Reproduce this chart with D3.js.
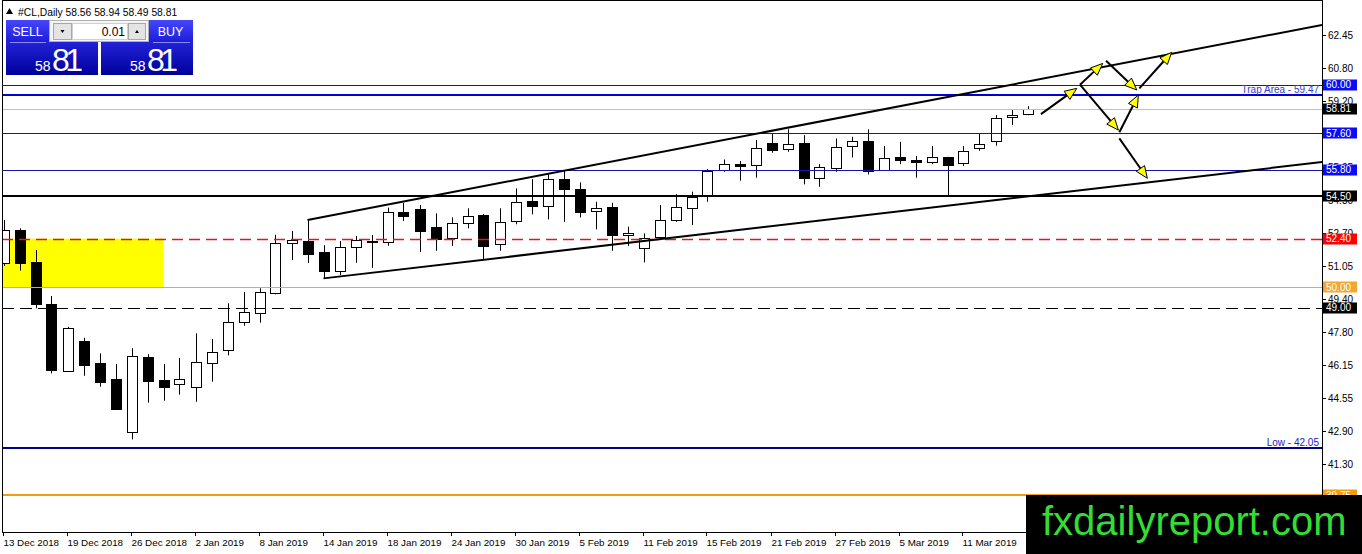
<!DOCTYPE html>
<html><head><meta charset="utf-8">
<script src="https://cdn.jsdelivr.net/npm/d3@7"></script>
<style>body{margin:0;background:#fff;overflow:hidden}svg{display:block}</style>
</head><body>
<svg id="c" width="1362" height="554"></svg>
<script>
// ---------------- DATA ----------------
const symbol = "#CL,Daily";
const dates = ["13 Dec 2018","14 Dec 2018","17 Dec 2018","18 Dec 2018","19 Dec 2018","20 Dec 2018","21 Dec 2018","24 Dec 2018","26 Dec 2018","27 Dec 2018","28 Dec 2018","31 Dec 2018",
"2 Jan 2019","3 Jan 2019","4 Jan 2019","7 Jan 2019","8 Jan 2019","9 Jan 2019","10 Jan 2019","11 Jan 2019","14 Jan 2019","15 Jan 2019","16 Jan 2019","17 Jan 2019","18 Jan 2019","21 Jan 2019","22 Jan 2019","23 Jan 2019","24 Jan 2019","25 Jan 2019","28 Jan 2019","29 Jan 2019","30 Jan 2019","31 Jan 2019",
"1 Feb 2019","4 Feb 2019","5 Feb 2019","6 Feb 2019","7 Feb 2019","8 Feb 2019","11 Feb 2019","12 Feb 2019","13 Feb 2019","14 Feb 2019","15 Feb 2019","18 Feb 2019","19 Feb 2019","20 Feb 2019","21 Feb 2019","22 Feb 2019","25 Feb 2019","26 Feb 2019","27 Feb 2019","28 Feb 2019",
"1 Mar 2019","4 Mar 2019","5 Mar 2019","6 Mar 2019","7 Mar 2019","8 Mar 2019","11 Mar 2019","12 Mar 2019","13 Mar 2019","14 Mar 2019","15 Mar 2019"];
const opens  = [51.20,52.83,51.25,49.16,45.88,47.35,46.26,45.47,42.84,46.56,45.42,45.21,45.09,46.25,46.89,48.27,48.71,49.70,52.17,52.28,51.72,50.77,51.97,52.26,52.22,53.70,53.85,52.96,52.40,53.16,53.57,52.10,53.25,54.24,54.01,55.33,54.83,53.76,53.95,52.58,51.92,52.46,53.32,53.95,54.50,55.79,56.08,56.00,57.13,56.81,57.13,55.43,55.92,56.99,57.22,55.82,56.41,56.28,56.17,56.41,56.17,56.86,57.18,58.42,58.56];
const highs  = [53.32,52.91,51.84,49.57,48.05,47.51,46.74,46.21,46.99,46.70,46.21,46.51,47.73,47.45,49.21,49.77,49.95,52.59,52.78,53.32,52.08,52.28,52.53,52.58,53.93,54.17,54.06,53.65,53.45,53.90,53.62,53.90,54.88,55.34,55.62,55.75,55.18,54.22,54.17,52.99,52.66,54.06,54.60,54.72,55.84,56.31,56.23,57.27,57.60,57.80,57.51,56.08,57.35,57.43,57.80,56.97,57.18,56.48,56.97,56.44,56.97,57.60,58.50,58.75,58.94];
const lows   = [51.05,50.82,48.96,45.75,45.85,45.63,45.09,43.98,42.49,44.30,44.40,44.70,44.35,45.34,46.64,48.10,48.25,49.65,51.34,51.20,50.44,50.60,51.21,50.96,52.05,53.27,51.75,51.80,52.04,52.91,51.38,51.80,53.11,53.60,53.35,53.23,53.45,52.86,51.80,52.04,51.23,52.33,53.23,53.07,54.22,55.70,55.26,55.41,56.64,56.69,55.08,54.96,55.70,56.41,55.57,55.79,56.08,55.41,56.08,54.52,55.98,56.74,56.99,58.01,58.49];
const closes = [52.83,51.20,49.16,45.88,47.99,46.18,45.34,43.99,46.59,45.39,45.09,45.46,46.30,46.79,48.27,48.76,49.75,52.17,52.32,51.66,50.77,51.97,52.33,52.20,53.70,53.48,52.74,52.37,53.16,53.52,52.05,53.21,54.19,53.98,55.33,54.83,53.70,53.90,52.56,52.68,52.42,53.30,53.95,54.47,55.75,56.08,56.00,56.86,56.77,57.07,55.41,55.95,56.94,57.23,55.74,56.39,56.25,56.17,56.41,56.00,56.74,57.06,58.34,58.50,58.81];

const dateLabelEvery = 4;
const priceTicks = [62.45,60.80,59.20,57.60,55.95,54.30,52.70,51.05,49.40,47.80,46.15,44.55,42.90,41.30,39.65];

// horizontal levels
const levelNames  = ["r60","trap","r5760","r5580","s5450","s5240","s50","s49","low","s3975"];
const levelPrices = [60.00, 59.47, 57.60, 55.80, 54.50, 52.40, 50.00, 49.00, 42.05, 39.75];
const levelTexts  = ["", "Trap Area - 59.47", "", "", "", "", "", "", "Low - 42.05", ""];
// supply/demand zone (bar range, price range)
const zoneBars   = [-1, 10];
const zonePrices = [50.00, 52.40];
// channel anchors [bar, price]
const upperChannel = [[19, 53.32], [35, 55.75]];
const lowerChannel = [[20, 50.44], [30, 51.36]];
// scenario arrows [[bar, price] -> [bar, price]]
const arrowsData = [
  [[64.84,58.55],[67.08,59.82]],
  [[67.28,60.00],[68.70,61.05]],
  [[68.91,61.18],[70.83,59.74]],
  [[70.99,59.82],[73.01,61.60]],
  [[67.28,60.00],[69.68,57.76]],
  [[69.74,57.65],[70.93,59.49]],
  [[69.74,57.35],[71.49,55.38]]
];
const lotSize = "0.01";
const watermark = "fxdailyreport.com";

// ---------------- STYLES ----------------
const levelStyle = {
  r60:   {stroke:"#1414a8", w:1, dash:null, tag:"#0a0aff"},
  trap:  {stroke:"#0000dd", w:2, dash:null, tag:null, text:"#3a3ad0"},
  r5760: {stroke:"#1414a8", w:1, dash:null, tag:"#0a0aff"},
  r5580: {stroke:"#1414a8", w:1, dash:null, tag:"#0a0aff"},
  s5450: {stroke:"#000000", w:2, dash:null, tag:"#000000"},
  s5240: {stroke:"#e01818", w:1.5, dash:"11,6", tag:"#ff0000"},
  s50:   {stroke:"#f0a830", w:1, dash:null, tag:"#f0a830"},
  s49:   {stroke:"#000000", w:1.2, dash:"12,6", tag:"#000000"},
  low:   {stroke:"#00008c", w:2, dash:null, tag:null, text:"#2020c0"},
  s3975: {stroke:"#f39c12", w:2, dash:null, tag:"#f39c12"}
};
const FONT = "'Liberation Sans', Arial, sans-serif";

// ---------------- CHART ----------------
const svg = d3.select("#c");
const L = 2, R = 1322, B = 532, T = 0;
const x = d3.scaleLinear().domain([-0.09375, 82.40625]).range([L, R]);
const y = d3.scaleLinear().domain([37.92, 63.49]).range([B, 14]);
const cw = 10;

svg.append("defs").append("clipPath").attr("id","plotclip")
  .append("rect").attr("x",L).attr("y",T).attr("width",R-L).attr("height",B-T);

const g = svg.append("g").attr("clip-path","url(#plotclip)");

// zone rectangle (background)
g.append("rect")
  .attr("x", x(zoneBars[0])).attr("width", x(zoneBars[1]) - x(zoneBars[0]))
  .attr("y", y(zonePrices[1])).attr("height", y(zonePrices[0]) - y(zonePrices[1]))
  .attr("fill", "#ffff00");

// candles
const bars = d3.range(opens.length).map(i => ({i, o:opens[i], h:highs[i], l:lows[i], c:closes[i]}));
const cg = g.append("g");
cg.selectAll("line.wick").data(bars).join("line")
  .attr("x1", d => Math.round(x(d.i)) + 0.5).attr("x2", d => Math.round(x(d.i)) + 0.5)
  .attr("y1", d => y(d.h)).attr("y2", d => y(d.l))
  .attr("stroke", "#000").attr("stroke-width", 1);
cg.selectAll("rect.body").data(bars).join("rect")
  .attr("x", d => Math.round(x(d.i)) - cw/2 + 0.5)
  .attr("width", cw)
  .attr("y", d => Math.round(y(Math.max(d.o, d.c))) + 0.5)
  .attr("height", d => Math.max(1, Math.round(Math.abs(y(d.o) - y(d.c)))))
  .attr("fill", d => d.c >= d.o ? "#fff" : "#000")
  .attr("stroke", "#000").attr("stroke-width", 1);

// current price line
const last = bars[bars.length-1];
g.append("line").attr("x1",L).attr("x2",R)
  .attr("y1", Math.round(y(last.c))+0.5).attr("y2", Math.round(y(last.c))+0.5)
  .attr("stroke","#c0c0c0").attr("stroke-width",1);

// horizontal levels
levelPrices.forEach((p, k) => {
  const s = levelStyle[levelNames[k]];
  const yy = s.w < 2 ? Math.round(y(p)) + 0.5 : Math.round(y(p));
  g.append("line").attr("x1", L).attr("x2", R).attr("y1", yy).attr("y2", yy)
    .attr("stroke", s.stroke).attr("stroke-width", s.w)
    .attr("stroke-dasharray", s.dash);
  if (levelTexts[k]) {
    g.append("text").attr("x", R - 3).attr("y", yy - 2.5)
      .attr("text-anchor","end").attr("font-family",FONT).attr("font-size",10)
      .attr("fill", s.text).text(levelTexts[k]);
  }
});

// channel lines
function ray(a) {
  const [b0,p0] = a[0], [b1,p1] = a[1];
  const slope = (p1-p0)/(b1-b0);
  const bEnd = x.domain()[1];
  return [[x(b0), y(p0)], [x(bEnd), y(p0 + slope*(bEnd-b0))]];
}
[upperChannel, lowerChannel].forEach(ch => {
  const pts = ray(ch);
  g.append("line").attr("x1",pts[0][0]).attr("y1",pts[0][1]).attr("x2",pts[1][0]).attr("y2",pts[1][1])
    .attr("stroke","#000").attr("stroke-width",2);
});

// arrows
arrowsData.forEach(a => {
  const x0 = x(a[0][0]), y0 = y(a[0][1]), x1 = x(a[1][0]), y1 = y(a[1][1]);
  const dx = x1-x0, dy = y1-y0, len = Math.hypot(dx,dy);
  const ux = dx/len, uy = dy/len, hl = 12, hw = 5;
  const bx = x1 - ux*hl, by = y1 - uy*hl;
  g.append("line").attr("x1",x0).attr("y1",y0).attr("x2",bx).attr("y2",by)
    .attr("stroke","#000").attr("stroke-width",2);
  g.append("path")
    .attr("d", `M${x1},${y1}L${bx - uy*hw},${by + ux*hw}L${bx + uy*hw},${by - ux*hw}Z`)
    .attr("fill","#ffff00").attr("stroke","#000").attr("stroke-width",1);
});

// frame
svg.append("line").attr("x1",L+0.5).attr("x2",L+0.5).attr("y1",0).attr("y2",B).attr("stroke","#000");
svg.append("line").attr("x1",L).attr("x2",R).attr("y1",0.5).attr("y2",0.5).attr("stroke","#000");
svg.append("line").attr("x1",L).attr("x2",R+1).attr("y1",B+0.5).attr("y2",B+0.5).attr("stroke","#000");
svg.append("line").attr("x1",R+0.5).attr("x2",R+0.5).attr("y1",0).attr("y2",B+1).attr("stroke","#000");

// right axis ticks & labels
const ax = svg.append("g");
priceTicks.forEach(p => {
  const yy = Math.round(y(p)) + 0.5;
  ax.append("line").attr("x1",R).attr("x2",R+4).attr("y1",yy).attr("y2",yy).attr("stroke","#000");
  ax.append("text").attr("x",R+6).attr("y",yy).attr("dy","0.35em")
    .attr("font-family",FONT).attr("font-size",10).attr("fill","#000").text(p.toFixed(2));
});

// price tags
const tags = levelPrices.map((p,k) => ({p, color: levelStyle[levelNames[k]].tag})).filter(d => d.color);
tags.push({p:last.c, color:"#000000"});
tags.forEach(d => {
  const yy = y(d.p);
  ax.append("rect").attr("x",R+1).attr("y",Math.round(yy)-5.5).attr("width",34).attr("height",11).attr("fill",d.color);
  ax.append("text").attr("x",R+4).attr("y",yy).attr("dy","0.36em")
    .attr("font-family",FONT).attr("font-size",10).attr("fill","#fff").text(d.p.toFixed(2));
});

// bottom axis
const bxg = svg.append("g");
dates.forEach((dstr, i) => {
  if (i % dateLabelEvery !== 0) return;
  const xx = Math.round(x(i)) + 0.5;
  bxg.append("line").attr("x1",xx-1).attr("x2",xx-1).attr("y1",B).attr("y2",B+4).attr("stroke","#000");
  bxg.append("text").attr("x",xx-1).attr("y",546)
    .attr("font-family",FONT).attr("font-size",9.8).attr("fill","#000").text(dstr);
});

// header
svg.append("path").attr("d","M6,14L9.5,8L13,14Z").attr("fill","#000");
svg.append("text").attr("x",18).attr("y",15.5).attr("font-family",FONT).attr("font-size",10.3).attr("fill","#000")
  .text(`${symbol}  ${last.o.toFixed(2)} ${last.h.toFixed(2)} ${last.l.toFixed(2)} ${last.c.toFixed(2)}`);

// trade panel
const defs = svg.select("defs");
const g1 = defs.append("linearGradient").attr("id","gTop").attr("x1",0).attr("y1",0).attr("x2",0).attr("y2",1);
g1.append("stop").attr("offset","0").attr("stop-color","#4646ff");
g1.append("stop").attr("offset","1").attr("stop-color","#1d1dd6");
const g2 = defs.append("linearGradient").attr("id","gBot").attr("x1",0).attr("y1",0).attr("x2",0).attr("y2",1);
g2.append("stop").attr("offset","0").attr("stop-color","#2222d8");
g2.append("stop").attr("offset","1").attr("stop-color","#00009a");
const pnl = svg.append("g");
pnl.append("rect").attr("x",6).attr("y",20).attr("width",43).attr("height",22).attr("fill","url(#gTop)");
pnl.append("rect").attr("x",149).attr("y",20).attr("width",44).attr("height",22).attr("fill","url(#gTop)");
pnl.append("rect").attr("x",6).attr("y",42).attr("width",92).attr("height",33).attr("fill","url(#gBot)");
pnl.append("rect").attr("x",101).attr("y",42).attr("width",92).attr("height",33).attr("fill","url(#gBot)");
pnl.append("line").attr("x1",10).attr("x2",46).attr("y1",42.5).attr("y2",42.5).attr("stroke","#8a8aff");
pnl.append("line").attr("x1",153).attr("x2",190).attr("y1",42.5).attr("y2",42.5).attr("stroke","#8a8aff");
pnl.append("text").attr("x",27.5).attr("y",35.5).attr("text-anchor","middle").attr("font-family",FONT).attr("font-size",12.5).attr("fill","#fff").text("SELL");
pnl.append("text").attr("x",170.5).attr("y",35.5).attr("text-anchor","middle").attr("font-family",FONT).attr("font-size",12.5).attr("fill","#fff").text("BUY");
// lot control
pnl.append("rect").attr("x",49.5).attr("y",20.5).attr("width",99).attr("height",21).attr("fill","#f4f4f4").attr("stroke","#b0b0b0");
pnl.append("rect").attr("x",53.5).attr("y",23.5).attr("width",18).attr("height",16).attr("fill","#e4e4e4").attr("stroke","#a8a8a8");
pnl.append("rect").attr("x",72.5).attr("y",23.5).attr("width",55).attr("height",16).attr("fill","#fff").attr("stroke","#d0d0d0");
pnl.append("rect").attr("x",128.5).attr("y",23.5).attr("width",17).attr("height",16).attr("fill","#e4e4e4").attr("stroke","#a8a8a8");
pnl.append("path").attr("d","M60.5,30L64.5,30L62.5,33Z").attr("fill","#000");
pnl.append("path").attr("d","M135,33L139,33L137,30Z").attr("fill","#000");
pnl.append("text").attr("x",125).attr("y",36).attr("text-anchor","end").attr("font-family",FONT).attr("font-size",12).attr("fill","#000").text(lotSize);
// prices
const bid = last.c.toFixed(2).split(".");
[[6,98],[101,193]].forEach(([x0]) => {
  pnl.append("text").attr("x",x0+29).attr("y",71).attr("font-family",FONT).attr("font-size",14).attr("fill","#fff").text(bid[0]);
  pnl.append("text").attr("x",x0+46).attr("y",71).attr("font-family",FONT).attr("font-size",32).attr("textLength",31).attr("fill","#fff").text(bid[1]);
});

// watermark
svg.append("rect").attr("x",1026).attr("y",495).attr("width",336).attr("height",59).attr("fill","#000");
svg.append("text").attr("x",1042).attr("y",535).attr("font-family",FONT).attr("font-size",40).attr("fill","#33dd33").text(watermark);
</script>
</body></html>
